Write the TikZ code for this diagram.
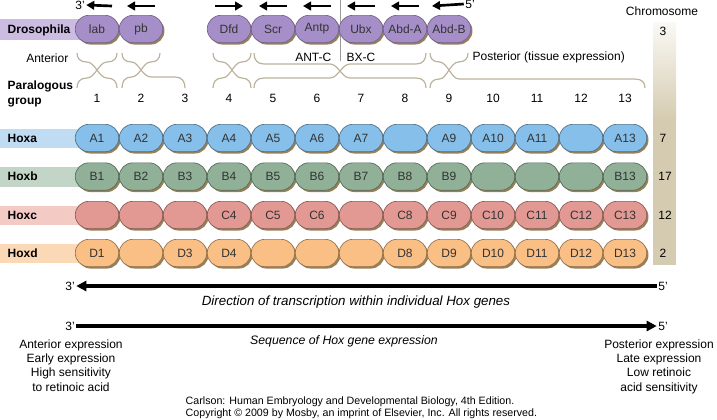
\documentclass[tikz,border=0pt]{standalone}
\usepackage{fontspec}
\setmainfont{Liberation Sans}
\usetikzlibrary{arrows.meta,shadows}
\definecolor{drosoFill}{RGB}{166,143,201}
\definecolor{drosoBand}{RGB}{204,188,226}
\definecolor{hoxaFill}{RGB}{134,191,234}
\definecolor{hoxaBand}{RGB}{192,220,243}
\definecolor{hoxbFill}{RGB}{144,177,152}
\definecolor{hoxbBand}{RGB}{194,213,199}
\definecolor{hoxcFill}{RGB}{227,153,147}
\definecolor{hoxcBand}{RGB}{244,202,197}
\definecolor{hoxdFill}{RGB}{250,191,133}
\definecolor{hoxdBand}{RGB}{252,217,182}
\definecolor{boxShadow}{RGB}{150,128,88}
\definecolor{braceGray}{RGB}{188,178,158}
\definecolor{chromTan}{RGB}{213,203,176}

% brace: left x, tip x, right x, end y, mid y, tip y
\newcommand{\hoxbrace}[6]{%
  \pgfmathsetmacro{\brL}{min(10,(#2-#1)/2)}
  \pgfmathsetmacro{\brR}{min(10,(#3-#2)/2)}
  \pgfmathsetmacro{\brH}{(#5+#6)/2}
  \pgfmathsetmacro{\brQ}{#4+0.6*(#5-#4)}
  \draw[brace line] (#1,#4) .. controls (#1,\brQ) and (#1+0.3*\brL,#5) .. (#1+\brL,#5) -- (#2-\brL,#5)
    .. controls (#2-0.6*\brL,#5) and (#2-0.3*\brL,\brH) .. (#2,#6)
    .. controls (#2+0.3*\brR,\brH) and (#2+0.6*\brR,#5) .. (#2+\brR,#5)
    -- (#3-\brR,#5) .. controls (#3-0.3*\brR,#5) and (#3,\brQ) .. (#3,#4);
}

\begin{document}
\begin{tikzpicture}[x=0.75pt, y=-0.75pt, font=\fontsize{9}{10.7}\selectfont,
  gene/.style={rectangle, rounded corners=10.2pt, minimum width=32.6pt, minimum height=20.5pt,
    inner sep=0pt, line width=0.5pt, text=black!80,
    drop shadow={shadow xshift=1.3pt, shadow yshift=-1.4pt, fill=boxShadow, opacity=1}},
  rowlabel/.style={anchor=west, font=\fontsize{9}{10.7}\selectfont\bfseries},
  brace line/.style={braceGray, line width=0.9pt},
  tiny arrow/.style={line width=2pt, -{Triangle[length=6pt, width=6.5pt]}},
  long arrow/.style={line width=2.3pt, -{Triangle[length=7.5pt, width=7.5pt]}},
  prime/.style={inner sep=1pt}]
\useasboundingbox (0,0) rectangle (717,419);

% chromosome bar
\shade[top color=chromTan!12, bottom color=chromTan] (653,22) rectangle (676,120);
\fill[chromTan] (653,119.5) rectangle (676,265);
\node (chrom) at (662,11) {Chromosome};

% label bands
\fill[drosoBand] (0,19) rectangle (80,40);
\fill[hoxaBand] (0,128.5) rectangle (80,148);
\fill[hoxbBand] (0,167) rectangle (80,186.5);
\fill[hoxcBand] (0,205.5) rectangle (80,225);
\fill[hoxdBand] (0,243.5) rectangle (80,263);

\node[rowlabel] (droso) at (3,30) {Drosophila};
\node[rowlabel] (hoxa) at (3,138) {Hoxa};
\node[rowlabel] (hoxb) at (3,176.5) {Hoxb};
\node[rowlabel] (hoxc) at (3,215) {Hoxc};
\node[rowlabel] (hoxd) at (3,253) {Hoxd};
\node[rowlabel, align=left] (para) at (3,94) {Paralogous\\group};

% ANT-C / BX-C divide
\draw[gray!80, line width=0.6pt] (340,0) -- (340,61);

% Drosophila genes
\foreach \name/\k/\txt in {lab/1/lab, pb/2/pb, dfd/4/Dfd, scr/5/Scr, antp/6/Antp,
    ubx/7/Ubx, abda/8/Abd-A, abdb/9/Abd-B}
  \node[gene, fill=drosoFill, draw=drosoFill!70!black] (\name) at (53+44*\k,29) {\txt};

\node[prime] (top3) at (80,5) {3'};
\node[prime] (top5) at (470,4) {5'};
\draw[tiny arrow] ([shift={(15,-23)}]lab.center) -- (top3.east);
\foreach \name/\dir in {pb/1, dfd/-1, scr/1, antp/1, ubx/1, abda/1}
  \draw[tiny arrow] ([shift={(14*\dir,-23)}]\name.center) -- ([shift={(-14*\dir,-23)}]\name.center);
\draw[tiny arrow] (top5.west) -- ([shift={(-17,-23)}]abdb.center);

% braces, gene side
\hoxbrace{77}{97}{117}{53}{62}{70}
\hoxbrace{122}{141}{160}{53}{62}{70}
\hoxbrace{213}{232}{251}{53}{62}{70}
\hoxbrace{254}{340}{426}{53}{64}{71}
\hoxbrace{430}{449}{468}{53}{62}{70}
% braces, group side
\hoxbrace{77}{97}{117}{88}{78}{70}
\hoxbrace{122}{141}{185}{88}{77}{70}
\hoxbrace{213}{232}{251}{88}{78}{70}
\hoxbrace{254}{340}{426}{88}{78}{71}
\hoxbrace{430}{449}{645}{88}{79}{70}

\node[anchor=east] (ant) at (73,58) {Anterior};
\node[anchor=east] (antc) at (336,57) {ANT-C};
\node[anchor=west] (bxc) at (342,57) {BX-C};
\node[anchor=west] (post) at (468,57) {Posterior (tissue expression)};

% paralogous groups
\foreach \k in {1,...,13}
  \node (g\k) at (53+44*\k,98) {\k};

% vertebrate clusters
\foreach \gene [count=\k] in {A1,A2,A3,A4,A5,A6,A7,{},A9,A10,A11,{},A13}
  \node[gene, fill=hoxaFill, draw=hoxaFill!60!black] (a\k) at (53+44*\k,138) {\gene};
\foreach \gene [count=\k] in {B1,B2,B3,B4,B5,B6,B7,B8,B9,{},{},{},B13}
  \node[gene, fill=hoxbFill, draw=hoxbFill!60!black] (b\k) at (53+44*\k,176.5) {\gene};
\foreach \gene [count=\k] in {{},{},{},C4,C5,C6,{},C8,C9,C10,C11,C12,C13}
  \node[gene, fill=hoxcFill, draw=hoxcFill!60!black] (c\k) at (53+44*\k,215) {\gene};
\foreach \gene [count=\k] in {D1,{},D3,D4,{},{},{},D8,D9,D10,D11,D12,D13}
  \node[gene, fill=hoxdFill, draw=hoxdFill!60!black] (d\k) at (53+44*\k,253) {\gene};

\node (chr3) at (663,31) {3};
\node (chr7) at (663,138) {7};
\node (chr17) at (665,176.5) {17};
\node (chr12) at (665,215) {12};
\node (chr2) at (663,253) {2};

% direction arrows
\node[prime] (dir3) at (70,286) {3'};
\node[prime] (dir5) at (663,286) {5'};
\draw[long arrow] (dir5) -- (dir3);
\node[font=\fontsize{10}{12}\selectfont\itshape] (dirtxt) at (356,302) {Direction of transcription within individual Hox genes};

\node[prime] (seq3) at (70,326) {3'};
\node[prime] (seq5) at (663,326) {5'};
\draw[long arrow] (seq3) -- (seq5);
\node[font=\fontsize{9.2}{11}\selectfont\itshape] (seqtxt) at (344,341) {Sequence of Hox gene expression};

\node[align=center, anchor=north] (anterior) at (71,335) {Anterior expression\\Early expression\\High sensitivity\\to retinoic acid};
\node[align=center, anchor=north] (posterior) at (659,335) {Posterior expression\\Late expression\\Low retinoic\\acid sensitivity};

\node[anchor=west, align=left, font=\fontsize{8}{9}\selectfont] (credit) at (181,408)
  {Carlson: Human Embryology and Developmental Biology, 4th Edition.\\
   Copyright \textcopyright{} 2009 by Mosby, an imprint of Elsevier, Inc. All rights reserved.};
\end{tikzpicture}
\end{document}
